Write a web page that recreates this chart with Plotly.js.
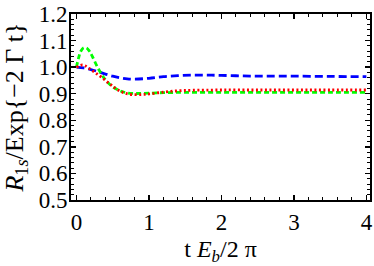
<!DOCTYPE html>
<html>
<head>
<meta charset="utf-8">
<script src="https://cdn.plot.ly/plotly-3.0.1.min.js"></script>
<style>html,body{margin:0;padding:0;background:#fff;}#plot{width:374px;height:266px;}</style>
</head>
<body>
<div id="plot"></div>
<script>
const blueX = [0,0.1,0.2,0.3,0.4,0.5,0.6,0.7,0.8,1.0,1.2,1.4,1.6,1.8,2.0,2.3,2.6,3.0,3.5,4.0];
const blueY = [1.0,0.997,0.991,0.983,0.974,0.966,0.960,0.956,0.955,0.958,0.964,0.968,0.970,0.970,0.969,0.967,0.966,0.966,0.965,0.964];
const redX = [0,0.04,0.08,0.12,0.17,0.25,0.35,0.45,0.55,0.65,0.75,0.9,1.0,1.2,1.4,1.6,2.0,2.5,3.0,3.5,4.0];
const redY = [1.0,1.005,1.008,1.005,0.996,0.981,0.961,0.939,0.918,0.904,0.897,0.897,0.899,0.906,0.911,0.913,0.914,0.914,0.914,0.914,0.914];
const greenX = [0,0.03,0.06,0.1,0.14,0.18,0.22,0.3,0.4,0.5,0.6,0.7,0.8,0.9,1.0,1.2,1.5,2.0,2.5,3.0,3.5,4.0];
const greenY = [1.0,1.035,1.06,1.073,1.072,1.06,1.04,0.995,0.952,0.926,0.911,0.903,0.901,0.901,0.902,0.904,0.905,0.905,0.905,0.905,0.905,0.905];
const xTicks = [0,1,2,3,4];
const yTicks = [0.5,0.6,0.7,0.8,0.9,1.0,1.1,1.2];
const yTickText = ["0.5","0.6","0.7","0.8","0.9","1.0","1.1","1.2"];

const traces = [
  {x: blueX, y: blueY, mode:'lines', line:{color:'#0000ff', width:2.8, dash:'8px,4px', shape:'spline'}},
  {x: greenX, y: greenY, mode:'lines', line:{color:'#00ff00', width:2.8, dash:'5px,3px', shape:'spline'}},
  {x: redX, y: redY, mode:'lines', line:{color:'#ff0000', width:2.8, dash:'2px,2.5px', shape:'spline'}}
];
function f(s){ return {family:'Liberation Serif', size:s, color:'#000000'}; }
const layout = {
  width:374, height:266,
  margin:{l:71, r:4, t:14, b:66},
  showlegend:false,
  paper_bgcolor:'#fff', plot_bgcolor:'#fff',
  font: f(21),
  xaxis:{
    range:[-0.075,4.05], tickvals:xTicks, ticktext:xTicks.map(String),
    ticks:'inside', ticklen:5, tickwidth:1.5, tickcolor:'#000',
    minor:{ticks:'inside', dtick:0.2, tick0:0, ticklen:3, tickwidth:1, tickcolor:'#000', showgrid:false},
    showline:true, linewidth:2, linecolor:'#000', mirror:'allticks',
    showgrid:false, zeroline:false, tickfont:f(23),
    title:{text:'t <i>E</i><sub><i>b</i></sub>/2 π', font:f(24), standoff:10}
  },
  yaxis:{
    range:[0.5,1.2], tickvals:yTicks, ticktext:yTickText,
    ticks:'inside', ticklen:5, tickwidth:1.5, tickcolor:'#000',
    ticklabelstandoff:-3,
    minor:{ticks:'inside', dtick:0.02, tick0:0.5, ticklen:3, tickwidth:1, tickcolor:'#000', showgrid:false},
    showline:true, linewidth:2, linecolor:'#000', mirror:'allticks',
    showgrid:false, zeroline:false, tickfont:f(23),
    title:{text:'<i>R</i><sub>1<i>s</i></sub>/Exp{−2 Γ t}', font:f(26), standoff:10}
  }
};
Plotly.newPlot('plot', traces, layout, {staticPlot:true, displayModeBar:false});
</script>
</body>
</html>
